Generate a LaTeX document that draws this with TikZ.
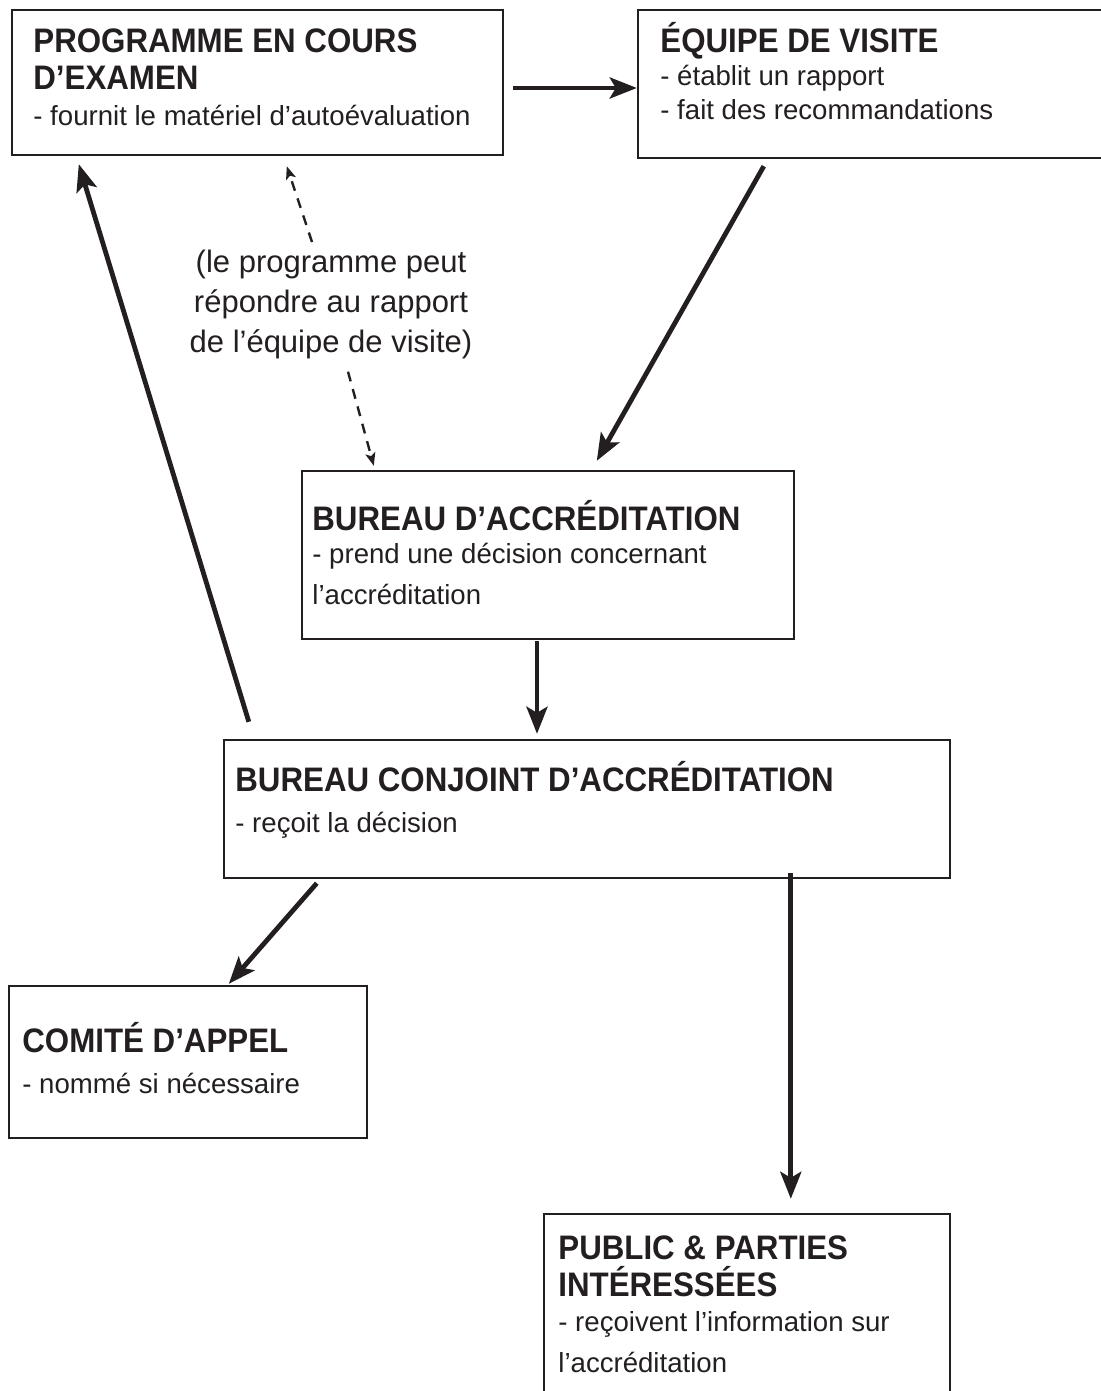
\documentclass[tikz,border=0pt]{standalone}
\usepackage{fontspec}
\setmainfont{Liberation Sans}
\newfontfamily\headfont[FakeStretch=0.92]{Liberation Sans}
\usetikzlibrary{positioning,fit,arrows.meta}
\definecolor{ink}{HTML}{231F20}
\tikzset{
	box/.style   = {draw=ink, line width=1.2pt, inner sep=0pt},
	head/.style  = {anchor=north west, inner sep=0pt, align=left, text=ink,
	                font=\headfont\bfseries\fontsize{17}{18.5}\selectfont},
	body/.style  = {anchor=north west, inner sep=0pt, align=left, text=ink,
	                font=\fontsize{13.8}{20.5}\selectfont},
	note/.style  = {anchor=north, inner sep=0pt, align=center, text=ink,
	                font=\fontsize{15.5}{20}\selectfont},
	flow/.style  = {draw=ink, line width=2.4pt, -{Stealth[length=13.5pt,width=10.5pt,inset=3pt]}},
	reply/.style = {draw=ink, line width=1.2pt, dash pattern=on 5pt off 4pt,
	                -{Stealth[length=6.5pt,width=5pt,inset=1.5pt]}}
}

\begin{document}
\begin{tikzpicture}[x=0.5pt, y=-0.5pt]
	\useasboundingbox (0,0) rectangle (1100,1391);

	% boxes
	\node[box, fit={(12,10) (503,155)}]     (prog)     {};
	\node[box, fit={(638,10) (1115,158)}]   (equipe)   {};
	\node[box, fit={(302,471) (794,639)}]   (bureau)   {};
	\node[box, fit={(224,740) (950,878)}]   (conjoint) {};
	\node[box, fit={(9,986) (367,1138)}]    (appel)    {};
	\node[box, fit={(544,1214) (950,1420)}] (public)   {};

	% texts
	\node[head] (progT)   at (33,28)    {PROGRAMME EN COURS\\D’EXAMEN};
	\node[body] (progB)   at (33,105)   {- fournit le matériel d’autoévaluation};
	\node[head] (equipeT) at (660,22)   {ÉQUIPE DE VISITE};
	\node[body, font=\fontsize{13.8}{17}\selectfont] (equipeB) at (660,65)
		{- établit un rapport\\- fait des recommandations};
	\node[head] (bureauT) at (312,500)  {BUREAU D’ACCRÉDITATION};
	\node[body] (bureauB) at (312,543)  {- prend une décision concernant\\l’accréditation};
	\node[head] (conjT)   at (235,761)  {BUREAU CONJOINT D’ACCRÉDITATION};
	\node[body] (conjB)   at (235,812)  {- reçoit la décision};
	\node[head] (appelT)  at (22,1022)  {COMITÉ D’APPEL};
	\node[body] (appelB)  at (22,1073)  {- nommé si nécessaire};
	\node[head] (publicT) at (558,1235) {PUBLIC \& PARTIES\\INTÉRESSÉES};
	\node[body] (publicB) at (558,1311) {- reçoivent l’information sur\\l’accréditation};
	\node[note] (reponse) at (331,250)  {(le programme peut\\répondre au rapport\\de l’équipe de visite)};

	% connectors
	\draw[flow]
		([shift={(9,5.5)}]prog.east)            -- ([shift={(0,4)}]equipe.west);
	\draw[flow]
		([shift={(127,7)}]equipe.south west)    -- ([shift={(296,-9)}]bureau.north west);
	\draw[flow]
		([shift={(-11,1)}]bureau.south)         -- ([shift={(-50,-5)}]conjoint.north);
	\draw[flow]
		([shift={(26,-17)}]conjoint.north west) -- ([shift={(68,8)}]prog.south west);
	\draw[flow]
		([shift={(94,4)}]conjoint.south west)   -- ([shift={(221,-1)}]appel.north west);
	\draw[flow]
		([shift={(568,-6)}]conjoint.south west) -- ([shift={(248,-14)}]public.north west);
	\draw[reply]
		([shift={(-19,-8)}]reponse.north)       -- ([shift={(276,10)}]prog.south west);
	\draw[reply]
		([shift={(17,12)}]reponse.south)        -- ([shift={(73,-4)}]bureau.north west);
\end{tikzpicture}
\end{document}
